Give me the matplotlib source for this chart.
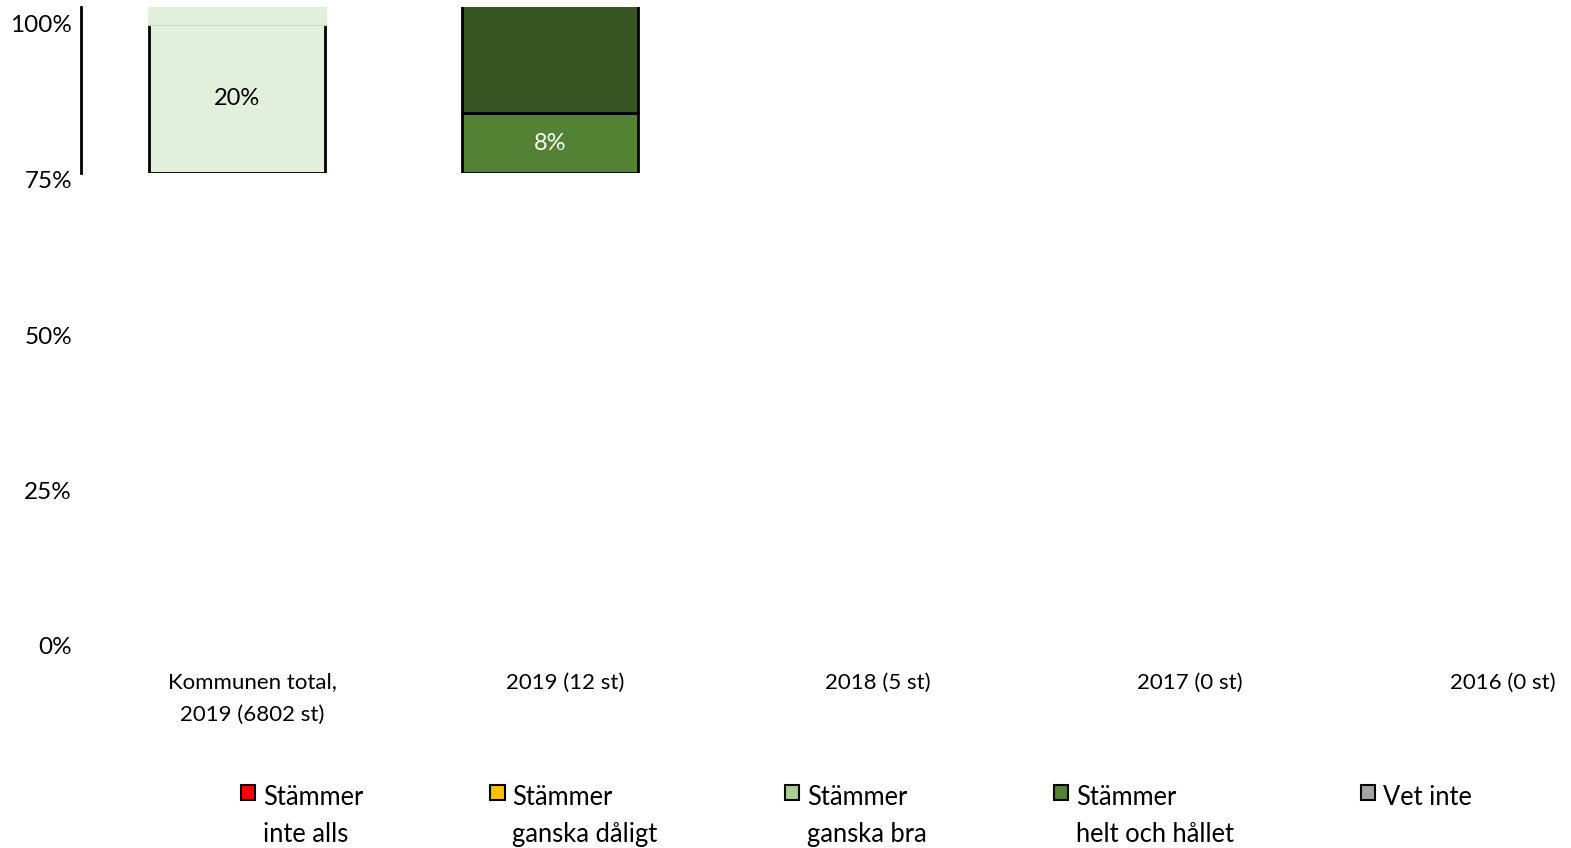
import matplotlib
matplotlib.use("Agg")
import matplotlib.pyplot as plt
import numpy as np
from matplotlib.patches import Patch, Rectangle
from matplotlib.legend_handler import HandlerPatch

plt.rcParams['font.family'] = ['Lato', 'DejaVu Sans']

# categories on the x axis
categories = ["Kommunen total,\n2019 (6802 st)", "2019 (12 st)", "2018 (5 st)",
              "2017 (0 st)", "2016 (0 st)"]
y_ticks = [0, 0.25, 0.5, 0.75, 1.0]
y_tick_labels = ["0%", "25%", "50%", "75%", "100%"]

# visible stacked segments (percent), as they show in the chart window
lower_vals = [20, 8, 0, 0, 0]
lower_colors = ["#E2EFDA", "#548235", "#548235", "#548235", "#548235"]
lower_labels = ["20%", "8%", "", "", ""]
lower_label_colors = ["black", "white", "black", "black", "black"]
upper_vals = [30, 92, 0, 0, 0]
upper_colors = ["#E2EFDA", "#375623", "#375623", "#375623", "#375623"]
upper_edgecolors = ["#E2EFDA", "black", "black", "black", "black"]

# legend
legend_labels = ["Stämmer\ninte alls", "Stämmer\nganska dåligt", "Stämmer\nganska bra",
                 "Stämmer\nhelt och hållet", "Vet inte\n "]
legend_colors = ["#FF0000", "#FFC000", "#A9D08E", "#548235", "#A5A5A5"]

W, H = 1571, 848
fig = plt.figure(figsize=(W / 100, H / 100), dpi=100)
fs = 16
fs_leg = 18.4

x = np.arange(len(categories))
xlim = (-(252 - 81) / 312.75, (W - 252) / 312.75)
bar_x = x - 0.048
bar_w = 176 / 312.75

# main axes: ticks and category labels
ax = fig.add_axes([81 / W, (H - 646) / H, (W - 81) / W, (646 - 24) / H])
ax.set_xlim(xlim)
ax.set_ylim(0, 1)
ax.set_yticks(y_ticks)
ax.set_yticklabels(y_tick_labels, fontsize=17.5)
ax.set_xticks(x)
ax.set_xticklabels(categories, fontsize=fs, linespacing=1.8)
ax.tick_params(axis='y', length=0, pad=6.5)
ax.tick_params(axis='x', length=0, pad=19)
for s in ax.spines.values():
    s.set_visible(False)
ax.patch.set_alpha(0)

# bar window
ax2 = fig.add_axes([81 / W, (H - 173) / H, (W - 81) / W, (173 - 7) / H])
ax2.set_xlim(xlim)
ax2.set_ylim(0, 22.3)
lw1 = [2 if v > 0 else 0 for v in lower_vals]
lw2 = [2 if v > 0 else 0 for v in upper_vals]
b1 = ax2.bar(bar_x, lower_vals, width=bar_w, color=lower_colors, edgecolor="black", linewidth=lw1)
b2 = ax2.bar(bar_x, upper_vals, width=bar_w, bottom=lower_vals, color=upper_colors,
             edgecolor=upper_edgecolors, linewidth=lw2)
texts = ax2.bar_label(b1, labels=lower_labels, label_type="center", fontsize=17)
for t, c in zip(texts, lower_label_colors):
    t.set_color(c)
ax2.set_xticks([])
ax2.set_yticks([])
for k in ["top", "right", "bottom"]:
    ax2.spines[k].set_visible(False)
ax2.spines["left"].set_linewidth(2)
ax2.patch.set_alpha(0)

# legend, with the box beside the first line of each label
shift_pt = 24.5 * 72 / 100


def top_patch(legend, orig_handle, xdescent, ydescent, width, height, fontsize):
    n = orig_handle.get_label().count("\n")
    return Rectangle((-xdescent, -ydescent + n * shift_pt), width, height)


handles = [Patch(facecolor=c, edgecolor="black", linewidth=1.5, label=l)
           for c, l in zip(legend_colors, legend_labels)]
leg = fig.legend(handles=handles, loc="upper left", bbox_to_anchor=(241 / W, (H - 785) / H),
                 ncol=5, frameon=False, fontsize=fs_leg, borderpad=0, borderaxespad=0,
                 handlelength=0.55, handleheight=0.55, handletextpad=0.31,
                 columnspacing=4.98, handler_map={Patch: HandlerPatch(patch_func=top_patch)})
for t in leg.get_texts():
    t.set_linespacing(1.6)

fig.savefig("out.png", dpi=100)
